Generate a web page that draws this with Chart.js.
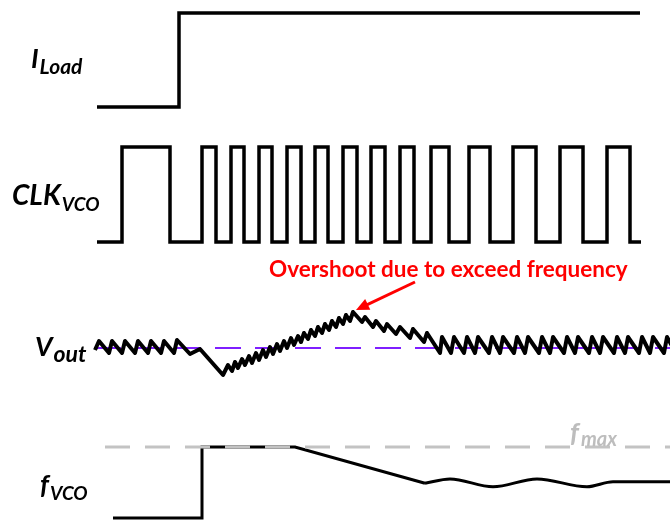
<!DOCTYPE html>
<html lang="en">
<head>
<meta charset="UTF-8">
<title>Load step response of a VCO-based converter</title>
<script src="https://cdn.jsdelivr.net/npm/chart.js@4.4.1/dist/chart.umd.min.js"></script>
<style>
  html, body { margin: 0; padding: 0; background: #fff; }
  #wrap { width: 670px; height: 520px; }
</style>
</head>
<body>
<div id="wrap"><canvas id="timing" width="670" height="520"></canvas></div>
<script>
// time runs 0..670 (arbitrary units) across the whole picture

// load current: 0 = light load, 1 = heavy load
const loadTime  = [97, 179, 640];
const loadLevel = [0, 1, 1];

// VCO clock, one entry per edge
const clkTime  = [97, 122, 170, 202, 216, 231, 244, 259, 272, 287, 301, 315, 328, 343, 357,
                  371, 385, 400, 414, 431, 449, 469, 490, 513, 536, 560, 583, 607, 630, 641];
const clkLevel = [0, 1, 0, 1, 0, 1, 0, 1, 0, 1, 0, 1, 0, 1, 0,
                  1, 0, 1, 0, 1, 0, 1, 0, 1, 0, 1, 0, 1, 0, 0];

// output voltage, deviation from the reference (arbitrary units)
const voutTime = [95, 99, 109, 112, 122, 125, 135, 138, 148, 151, 161, 164, 174, 177,
                  190, 200, 223,
                  228, 232, 235, 238, 242, 245, 249, 252, 256, 259, 263, 266, 270, 273, 277, 280,
                  284, 287, 291, 294, 298, 301, 304, 308, 311, 315, 318, 322, 325, 329, 332, 336,
                  339, 343, 346, 350, 353,
                  362, 365, 373, 376, 384, 387, 396, 400, 410, 413, 424, 427, 440,
                  442, 451, 454, 464, 467, 475, 478, 489, 492, 500, 503, 514, 517, 525, 528, 539,
                  542, 550, 553, 564, 567, 575, 578, 589, 592, 600, 603, 614, 617, 625, 628, 639,
                  642, 650, 653, 664, 667, 676];
const voutValue = [-2, 7, -5, 7, -5, 7, -5, 7, -5, 7, -5, 7, -5, 8,
                   -6, -1, -27,
                   -17, -23, -14, -20, -11, -17, -8, -15, -5, -12, -2, -9, 1, -6, 4, -3,
                   7, 0, 10, 3, 12, 6, 15, 9, 18, 12, 21, 15, 24, 18, 27, 21,
                   30, 24, 33, 27, 36,
                   26, 31, 21, 27, 17, 24, 14, 21, 10, 19, 6, 15, -5,
                   11, -5, 11, -5, 11, -5, 11, -5, 11, -5, 11, -5, 11, -5, 11, -5,
                   11, -5, 11, -5, 11, -5, 11, -5, 11, -5, 11, -5, 11, -5, 11, -5,
                   11, -5, 11, -5, 11, -5];
const voutRef = 0;
const voutRefTime = [95, 670];

// VCO frequency: 0 = before the step, 100 = f_max
const fvcoTime  = [113, 202, 202, 295, 425];
const fvcoValue = [0, 0, 100, 100, 49];
const fvcoSettleTime  = [425, 450, 493, 537, 587, 613, 670];
const fvcoSettleValue = [49, 55, 44, 55, 44, 51, 51];
const fmax = 100;
const fmaxTime = [105, 670];

const W = 670, H = 520;

// hidden y axis so that lowVal sits on lowRow and highVal on highRow
function rowAxis(lowRow, highRow, lowVal, highVal) {
    const k = (lowRow - highRow) / (highVal - lowVal);
    return {
        type: 'linear',
        display: false,
        min: lowVal - (H - lowRow) / k,
        max: lowVal + lowRow / k
    };
}

const pts = (t, v) => t.map((x, i) => ({ x: x, y: v[i] }));
const flat = (t, v) => t.map(x => ({ x: x, y: v }));

const FONT = 'Lato, "Open Sans", sans-serif';
const signalNames = [
    { main: 'I', sub: 'Load', x: 31, y: 68, size: 27, subSize: 21 },
    { main: 'CLK', sub: 'VCO', x: 12, y: 205, size: 28, subSize: 19 },
    { main: 'V', sub: 'out', x: 35, y: 356, size: 27, subSize: 23 },
    { main: 'f', sub: 'VCO', x: 40, y: 494, size: 27, subSize: 19 }
];

const labelsPlugin = {
    id: 'timingLabels',
    afterDraw(chart) {
        const ctx = chart.ctx;
        const xs = chart.scales.x, yv = chart.scales.yVout, yf = chart.scales.yF;
        ctx.save();
        ctx.textBaseline = 'alphabetic';
        ctx.textAlign = 'left';

        // signal names with subscripts
        ctx.fillStyle = '#000';
        signalNames.forEach(s => {
            ctx.font = 'italic bold ' + s.size + 'px ' + FONT;
            ctx.fillText(s.main, s.x, s.y);
            const w = ctx.measureText(s.main).width;
            ctx.font = 'italic bold ' + s.subSize + 'px ' + FONT;
            ctx.fillText(s.sub, s.x + w + 1, s.y + 6);
        });

        // f_max tag on the dashed limit line
        const fy = yf.getPixelForValue(fmax);
        const fx = xs.getPixelForValue(570);
        ctx.fillStyle = '#bdbdbd';
        ctx.font = 'italic bold 27px ' + FONT;
        ctx.fillText('f', fx, fy - 5);
        const fw = ctx.measureText('f').width;
        ctx.font = 'italic bold 20px ' + FONT;
        ctx.fillText('max', fx + fw + 2, fy - 1);

        // overshoot note and arrow
        ctx.fillStyle = '#ff0000';
        ctx.font = 'bold 22.5px ' + FONT;
        ctx.fillText('Overshoot due to exceed frequency', xs.getPixelForValue(269), yv.getPixelForValue(71));

        const x0 = xs.getPixelForValue(415), y0 = yv.getPixelForValue(66);
        const x1 = xs.getPixelForValue(356), y1 = yv.getPixelForValue(38);
        const a = Math.atan2(y1 - y0, x1 - x0);
        ctx.strokeStyle = '#ff0000';
        ctx.lineWidth = 3;
        ctx.beginPath();
        ctx.moveTo(x0, y0);
        ctx.lineTo(x1 - 9 * Math.cos(a), y1 - 9 * Math.sin(a));
        ctx.stroke();
        ctx.beginPath();
        ctx.moveTo(x1, y1);
        ctx.lineTo(x1 - 13 * Math.cos(a) + 6 * Math.sin(a), y1 - 13 * Math.sin(a) - 6 * Math.cos(a));
        ctx.lineTo(x1 - 13 * Math.cos(a) - 6 * Math.sin(a), y1 - 13 * Math.sin(a) + 6 * Math.cos(a));
        ctx.closePath();
        ctx.fill();
        ctx.restore();
    }
};

new Chart(document.getElementById('timing'), {
    type: 'line',
    data: {
        datasets: [{
            label: 'f_max',
            data: flat(fmaxTime, fmax),
            yAxisID: 'yF',
            borderColor: '#c3c3c3',
            borderWidth: 3,
            borderDash: [25, 15],
            order: 0
        }, {
            label: 'V_out',
            data: pts(voutTime, voutValue),
            yAxisID: 'yVout',
            borderColor: '#000',
            borderWidth: 4,
            borderJoinStyle: 'round',
            order: 1
        }, {
            label: 'V_ref',
            data: flat(voutRefTime, voutRef),
            yAxisID: 'yVout',
            borderColor: '#7f1fff',
            borderWidth: 2,
            borderDash: [26, 14],
            order: 2
        }, {
            label: 'I_Load',
            data: pts(loadTime, loadLevel),
            yAxisID: 'yLoad',
            stepped: 'before',
            borderColor: '#000',
            borderWidth: 3.5,
            order: 3
        }, {
            label: 'CLK_VCO',
            data: pts(clkTime, clkLevel),
            yAxisID: 'yClk',
            stepped: 'before',
            borderColor: '#000',
            borderWidth: 3.5,
            order: 4
        }, {
            label: 'f_VCO',
            data: pts(fvcoTime, fvcoValue),
            yAxisID: 'yF',
            borderColor: '#000',
            borderWidth: 3,
            order: 5
        }, {
            label: 'f_VCO settling',
            data: pts(fvcoSettleTime, fvcoSettleValue),
            yAxisID: 'yF',
            borderColor: '#000',
            borderWidth: 3,
            cubicInterpolationMode: 'monotone',
            order: 6
        }]
    },
    options: {
        responsive: false,
        animation: false,
        events: [],
        layout: { padding: 0 },
        elements: {
            point: { radius: 0 },
            line: { fill: false, borderCapStyle: 'butt' }
        },
        plugins: {
            legend: { display: false },
            tooltip: { enabled: false },
            title: { display: false }
        },
        scales: {
            x: { type: 'linear', display: false, min: 0, max: W },
            yLoad: rowAxis(107, 13, 0, 1),
            yClk: rowAxis(242, 147, 0, 1),
            yVout: rowAxis(348, 338, 0, 10),
            yF: rowAxis(518, 447, 0, 100)
        }
    },
    plugins: [labelsPlugin]
});
</script>
</body>
</html>
